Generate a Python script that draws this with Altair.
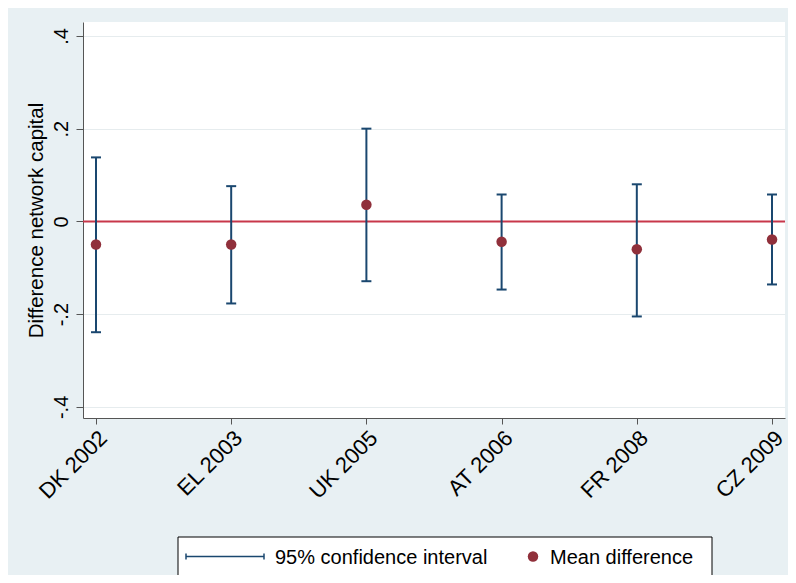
import altair as alt
import pandas as pd

labels = ["DK 2002", "EL 2003", "UK 2005", "AT 2006", "FR 2008", "CZ 2009"]
mean_diff = [-0.050, -0.050, 0.036, -0.044, -0.060, -0.039]
ci_low = [-0.239, -0.177, -0.129, -0.147, -0.205, -0.136]
ci_high = [0.138, 0.076, 0.200, 0.058, 0.080, 0.058]
y_ticks = [-0.4, -0.2, 0.0, 0.2, 0.4]
series_names = ["95% confidence interval", "Mean difference"]

NAVY = "#1a476f"
MAROON = "#90303b"
RED = "#c8374a"
FONT = "Liberation Sans"

df = pd.DataFrame({
    "label": labels,
    "mean": mean_diff,
    "lo": ci_low,
    "hi": ci_high,
})
ref = pd.DataFrame({"ref": [0.0]})

ydom = [-0.424, 0.430]

x_enc = alt.X(
    "label:N",
    sort=labels,
    scale=alt.Scale(type="point", padding=0.096),
    axis=alt.Axis(
        title=None, labelAngle=-45, labelAlign="right", labelBaseline="top",
        labelFontSize=22, labelFont=FONT, labelColor="black", labelPadding=3,
        tickSize=6, tickColor="#555555", domainColor="#555555", grid=False,
    ),
)

y_axis = alt.Axis(
    title="Difference network capital", titleFontSize=20.5, titleFont=FONT,
    titleFontWeight="normal", titleColor="black", titlePadding=5,
    values=y_ticks, labelAngle=-90, labelAlign="center", labelBaseline="alphabetic",
    labelExpr="datum.value == 0 ? '0' : (datum.value < 0 ? '-' : '') + '.' + round(abs(datum.value) * 10)",
    labelFontSize=20, labelFont=FONT, labelColor="black", labelPadding=9,
    tickSize=7, tickColor="#555555", domainColor="#555555",
    grid=True, gridColor="#e6ecee", gridWidth=1,
)
y_scale = alt.Scale(domain=ydom, nice=False, zero=False)

zero = alt.Chart(ref).mark_rule(color=RED, strokeWidth=2).encode(
    y=alt.Y("ref:Q", scale=y_scale, axis=y_axis)
)

base = alt.Chart(df)

bars = base.mark_rule(color=NAVY, strokeWidth=2).encode(
    x=x_enc,
    y=alt.Y("lo:Q", scale=y_scale, axis=y_axis),
    y2="hi:Q",
)
cap_hi = base.mark_tick(color=NAVY, size=10, thickness=2, opacity=1).encode(
    x=x_enc, y=alt.Y("hi:Q", scale=y_scale, axis=y_axis)
)
cap_lo = base.mark_tick(color=NAVY, size=10, thickness=2, opacity=1).encode(
    x=x_enc, y=alt.Y("lo:Q", scale=y_scale, axis=y_axis)
)
points = base.mark_point(filled=True, size=110, opacity=1, color=MAROON).encode(
    x=x_enc,
    y=alt.Y("mean:Q", scale=y_scale, axis=y_axis),
)

# ---- legend (drawn as a boxed key below the axis) ----
leg_df = pd.DataFrame({"name": series_names})
ci_name = leg_df.iloc[[0]]
mean_name = leg_df.iloc[[1]]
LY = 534.5  # vertical centre of the key, in plot-area pixels

leg_box = alt.Chart(ci_name).mark_rect(fill="white", stroke="black", strokeWidth=1).encode(
    x=alt.value(95), x2=alt.value(629), y=alt.value(515), y2=alt.value(554)
)
leg_line = alt.Chart(ci_name).mark_rule(color=NAVY, strokeWidth=1.5).encode(
    x=alt.value(103), x2=alt.value(181), y=alt.value(LY)
)
leg_cap1 = alt.Chart(ci_name).mark_rule(color=NAVY, strokeWidth=1.5).encode(
    x=alt.value(103), y=alt.value(LY - 3), y2=alt.value(LY + 3)
)
leg_cap2 = alt.Chart(ci_name).mark_rule(color=NAVY, strokeWidth=1.5).encode(
    x=alt.value(181), y=alt.value(LY - 3), y2=alt.value(LY + 3)
)
leg_txt1 = alt.Chart(ci_name).mark_text(
    align="left", baseline="middle", fontSize=20, font=FONT, color="black"
).encode(text="name:N", x=alt.value(192), y=alt.value(LY + 1))
leg_dot = alt.Chart(mean_name).mark_point(filled=True, size=110, opacity=1, color=MAROON).encode(
    x=alt.value(450), y=alt.value(LY)
)
leg_txt2 = alt.Chart(mean_name).mark_text(
    align="left", baseline="middle", fontSize=20, font=FONT, color="black"
).encode(text="name:N", x=alt.value(467), y=alt.value(LY + 1))

chart = alt.layer(
    zero, bars, cap_hi, cap_lo, points,
    leg_box, leg_line, leg_cap1, leg_cap2, leg_txt1, leg_dot, leg_txt2,
).properties(
    width=702, height=396,
    background="#e8f0f3",
    padding={"left": 75, "top": 14, "right": 3, "bottom": 157},
    autosize=alt.AutoSizeParams(type="none"),
).configure_view(fill="white", stroke=None)

chart.save("out.html", embed_options={"renderer": "svg", "actions": False})
